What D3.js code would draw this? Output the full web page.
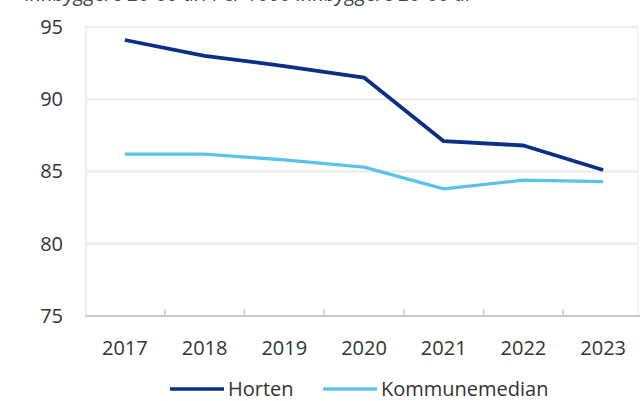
<!DOCTYPE html>
<html>
<head>
<meta charset="utf-8">
<script src="https://cdn.jsdelivr.net/npm/d3@7"></script>
<style>
  html, body { margin: 0; padding: 0; background: #fff; }
  svg { display: block; font-family: "Open Sans", "Noto Sans", sans-serif; }
</style>
</head>
<body>
<svg id="chart" width="640" height="401"></svg>
<script>
const years = ["2017", "2018", "2019", "2020", "2021", "2022", "2023"];
const horten = [94.1, 93.0, 92.3, 91.5, 87.1, 86.8, 85.1];
const kommunemedian = [86.2, 86.2, 85.8, 85.3, 83.8, 84.4, 84.3];
const yTicks = [75, 80, 85, 90, 95];
const seriesNames = ["Horten", "Kommunemedian"];
const seriesColors = ["#0b2f87", "#5bc3ea"];
const titleText = "innbyggere 20-66 år. Per 1000 innbyggere 20-66 år";

(function () {
const svg = d3.select("#chart");
const mLeft = 85, mRight = 643, mTop = 27, mBottom = 316;

const x = d3.scaleBand().domain(years).range([mLeft, mRight]);
const y = d3.scaleLinear().domain([75, 95]).range([mBottom, mTop]);

// cut-off title (cut off at the top edge in the reference too)
svg.append("text").attr("x", 25).attr("y", 1)
  .attr("font-size", 20).attr("font-style", "italic").attr("fill", "#444")
  .text(titleText);

// gridlines
svg.append("g").selectAll("line").data(yTicks.filter(d => d > 75)).join("line")
  .attr("x1", mLeft).attr("x2", 638)
  .attr("y1", d => y(d)).attr("y2", d => y(d))
  .attr("stroke", "#eeeeee").attr("stroke-width", 2.5);

// plot border (left/right)
svg.append("line").attr("x1", mLeft + 1).attr("x2", mLeft + 1).attr("y1", mTop).attr("y2", mBottom)
  .attr("stroke", "#eeeeee").attr("stroke-width", 2);
svg.append("line").attr("x1", 638).attr("x2", 638).attr("y1", mTop).attr("y2", mBottom)
  .attr("stroke", "#f0f0f0").attr("stroke-width", 1.5);

// y axis labels
const yAxis = d3.axisLeft(y).tickValues(yTicks).tickSize(0).tickPadding(0);
const gy = svg.append("g").attr("transform", `translate(${63},0)`).call(yAxis);
gy.select(".domain").remove();
gy.selectAll("text").attr("font-size", 20).attr("fill", "#333").attr("font-family", "'Open Sans', sans-serif");

// x axis
const boundaries = years.map(d => x(d)).slice(1);
svg.append("g").selectAll("line").data(boundaries).join("line")
  .attr("x1", d => d).attr("x2", d => d).attr("y1", mBottom - 7).attr("y2", mBottom)
  .attr("stroke", "#c8c8c8").attr("stroke-width", 1.5);
svg.append("line").attr("x1", mLeft).attr("x2", 640).attr("y1", mBottom).attr("y2", mBottom)
  .attr("stroke", "#c8c8c8").attr("stroke-width", 2);

const xAxis = d3.axisBottom(x).tickSize(0).tickPadding(0);
const gx = svg.append("g").attr("transform", `translate(0,${mBottom + 32})`).call(xAxis);
gx.select(".domain").remove();
gx.selectAll("text").attr("font-size", 20).attr("fill", "#333").attr("dy", "0.35em").attr("font-family", "'Open Sans', sans-serif");

// lines
const line = d3.line().x((d, i) => x(years[i]) + x.bandwidth() / 2).y(d => y(d));
[horten, kommunemedian].forEach((s, i) => {
  svg.append("path").datum(s).attr("d", line)
    .attr("fill", "none").attr("stroke", seriesColors[i])
    .attr("stroke-width", i === 0 ? 3.8 : 3.3)
    .attr("stroke-linejoin", "round");
});

// legend
const legendPos = [170, 323];
seriesNames.forEach((n, i) => {
  const g = svg.append("g").attr("transform", `translate(${legendPos[i]},389)`);
  g.append("line").attr("x1", 0).attr("x2", 54).attr("y1", 0).attr("y2", 0)
    .attr("stroke", seriesColors[i]).attr("stroke-width", 3.5);
  g.append("text").attr("x", 58).attr("y", 0).attr("dy", "0.35em")
    .attr("font-size", 20).attr("fill", "#333").text(n);
});
})();
</script>
</body>
</html>
